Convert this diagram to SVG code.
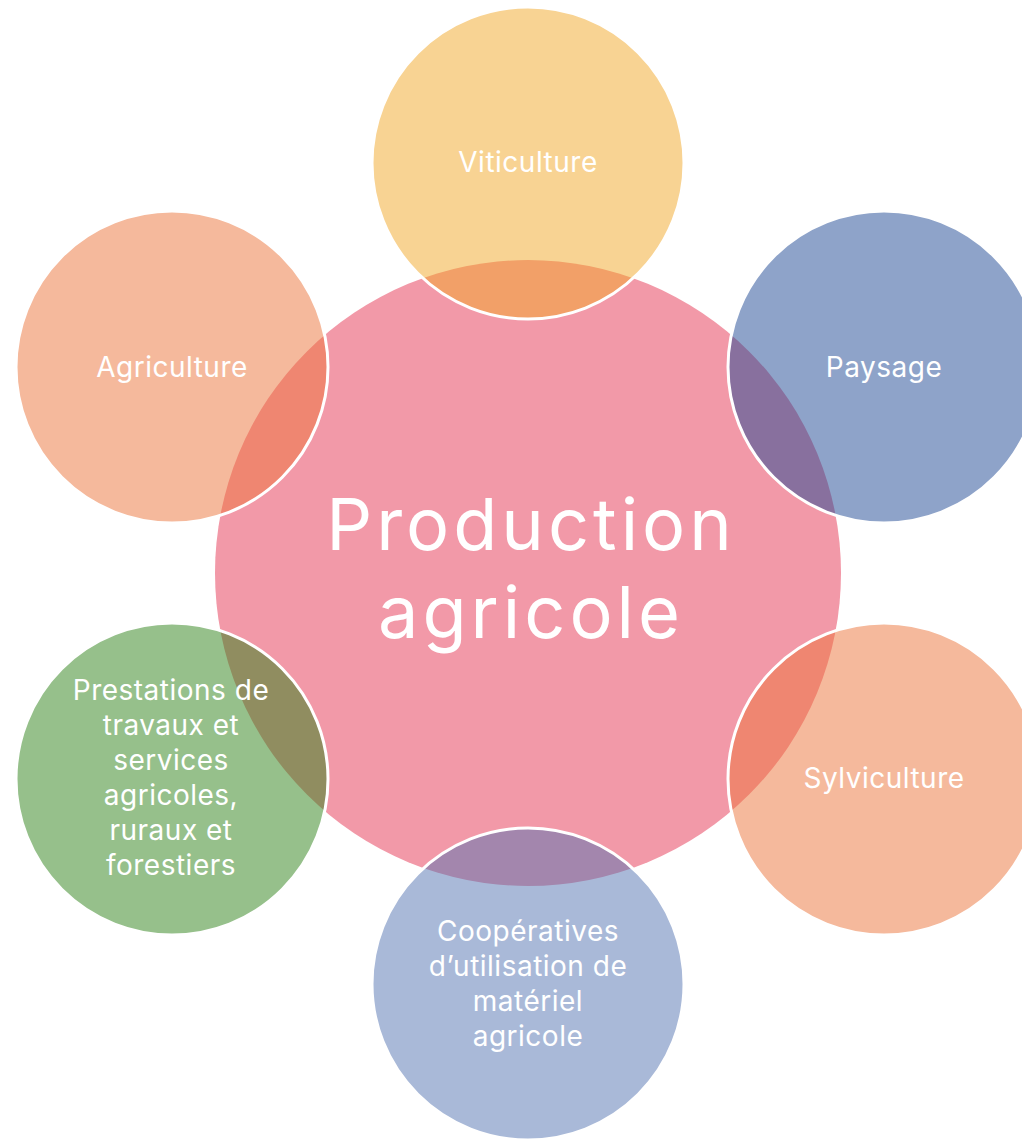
<svg xmlns="http://www.w3.org/2000/svg" width="1022" height="1140" viewBox="0 0 1022 1140">
<style>
.sat{fill-opacity:0.5;stroke:#ffffff;stroke-width:3}
.t{fill:#ffffff;font-family:Inter,"Open Sans",sans-serif;font-size:28px;letter-spacing:0.5px;text-anchor:middle}
.big{fill:#ffffff;font-family:Inter,"Open Sans",sans-serif;font-size:72px;letter-spacing:4px;text-anchor:middle}
</style>
<rect width="1022" height="1140" fill="#ffffff"/>
<g id="center">
<circle cx="528" cy="573" r="313" fill="#F299A8"/>
<text class="big" x="531" y="550">Production</text>
<text class="big" x="531" y="638">agricole</text>
</g>
<g id="viticulture">
<circle class="sat" cx="528" cy="163" r="156" fill="#F1A727"/>
<text class="t" x="528" y="172">Viticulture</text>
</g>
<g id="agriculture">
<circle class="sat" cx="172" cy="367" r="156" fill="#EB7339"/>
<text class="t" x="172" y="377">Agriculture</text>
</g>
<g id="paysage">
<circle class="sat" cx="884" cy="367" r="156" fill="#1D4793"/>
<text class="t" x="884" y="377">Paysage</text>
</g>
<g id="sylviculture">
<circle class="sat" cx="884" cy="779" r="156" fill="#EB7339"/>
<text class="t" x="884" y="788">Sylviculture</text>
</g>
<g id="cooperatives">
<circle class="sat" cx="528" cy="984" r="156" fill="#5373B1"/>
<text class="t" x="528" y="941">Coopératives</text>
<text class="t" x="528" y="976">d’utilisation de</text>
<text class="t" x="528" y="1011">matériel</text>
<text class="t" x="528" y="1046">agricole</text>
</g>
<g id="prestations">
<circle class="sat" cx="172" cy="779" r="156" fill="#2D8117"/>
<text class="t" x="171" y="700">Prestations de</text>
<text class="t" x="171" y="735">travaux et</text>
<text class="t" x="171" y="770">services</text>
<text class="t" x="171" y="805">agricoles,</text>
<text class="t" x="171" y="840">ruraux et</text>
<text class="t" x="171" y="875">forestiers</text>
</g>
<g id="connectors"></g>
</svg>
